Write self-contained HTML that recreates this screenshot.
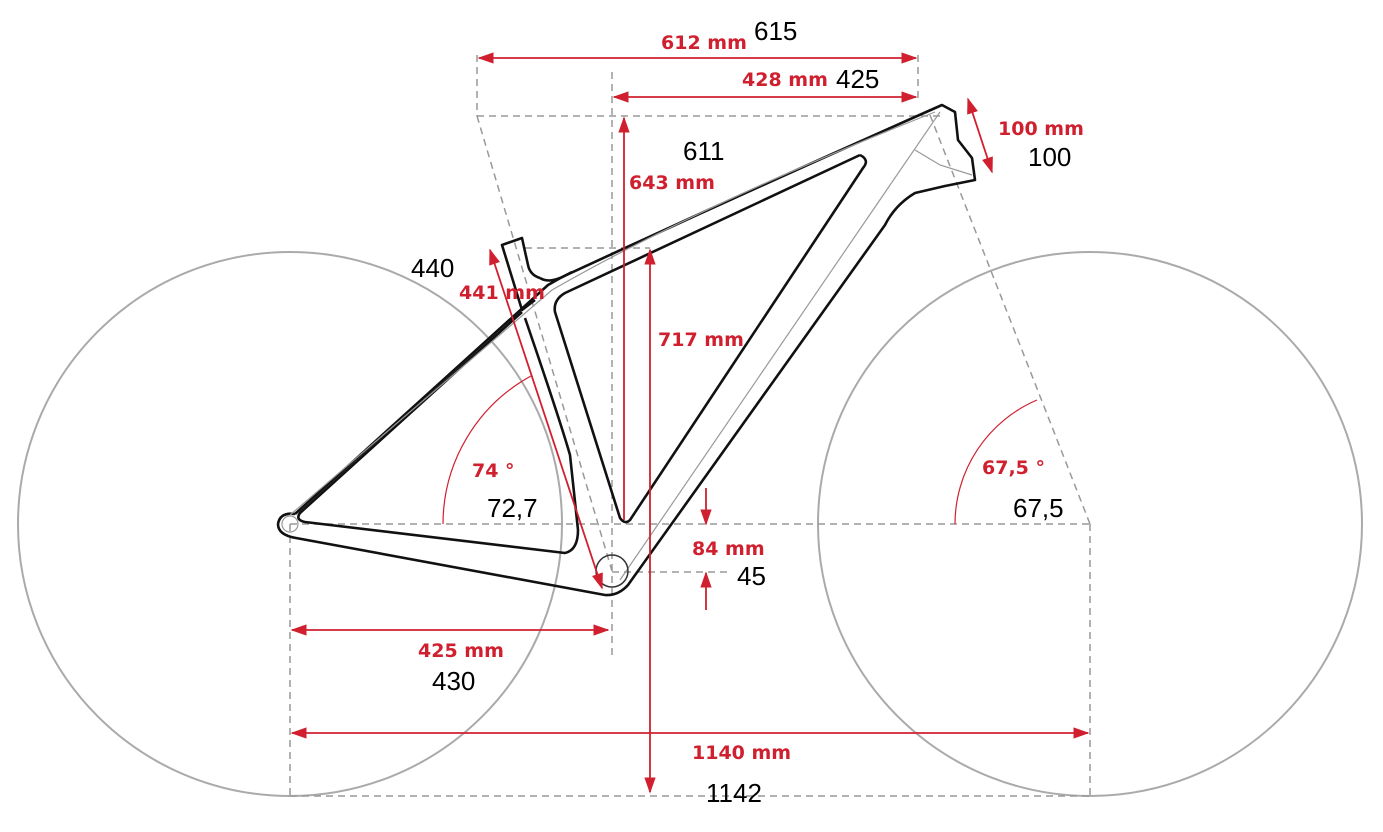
<!DOCTYPE html>
<html><head><meta charset="utf-8"><style>
html,body{margin:0;padding:0;background:#fff;}
svg{display:block;}
.r{fill:#d0202f;font-family:"DejaVu Sans","Liberation Sans",sans-serif;font-weight:bold;font-size:19px;}
.k{fill:#000;font-family:"Liberation Sans",sans-serif;font-size:26px;}
</style></head><body>
<svg width="1383" height="832" viewBox="0 0 1383 832" xmlns="http://www.w3.org/2000/svg">
<defs>
<marker id="a" viewBox="0 0 10 10" refX="9" refY="5" markerWidth="9" markerHeight="9" orient="auto-start-reverse"><path d="M0,1.5 L10,5 L0,8.5 z" fill="#d0202f"/></marker>
</defs>
<circle cx="290" cy="524" r="272" fill="none" stroke="#aaa" stroke-width="2"/>
<circle cx="1090" cy="524" r="272" fill="none" stroke="#aaa" stroke-width="2"/>
<g stroke="#999" stroke-width="1.5" stroke-dasharray="7,5" fill="none">
<line x1="477" y1="55" x2="477" y2="116"/>
<line x1="918" y1="55" x2="918" y2="100"/>
<line x1="612" y1="72" x2="612" y2="655"/>
<line x1="477" y1="116" x2="940" y2="116"/>
<line x1="477" y1="116" x2="612" y2="571"/>
<line x1="930" y1="115" x2="1090" y2="524"/>
<line x1="525" y1="248" x2="650" y2="248"/>
<line x1="290" y1="524" x2="1090" y2="524"/>
<line x1="612" y1="572" x2="730" y2="572"/>
<line x1="290" y1="524" x2="290" y2="796"/>
<line x1="1090" y1="524" x2="1090" y2="796"/>
<line x1="290" y1="796" x2="1090" y2="796"/>
</g>
<g fill="none" stroke="#111" stroke-width="2.6" stroke-linejoin="round">
<path d="M540,278 Q548,283 560,278 Q750,190 942,105 L955,112 L958,140 L972,158 L975,180 L945,186 L915,193 Q895,205 885,225 L628,585 Q618,596 605,595 L296,538 Q278,535 278,524 Q280,512 295,514"/>
<path d="M295,514 L548,285 Q560,278 572,272"/>
<path d="M540,278 Q530,275 528,265 L522,238 L502,245 L522,310 L535,300"/>
<path d="M860,155 Q870,160 863,168 L630,520 Q625,525 620,518 L555,312 Q553,300 565,293 L860,155"/>
<path d="M522,312 L300,513 Q295,520 305,522 L565,553 Q578,550 578,530 L570,455 Q560,420 525,318"/>
</g>
<g fill="none" stroke="#999" stroke-width="1.2">
<path d="M290,515 L552,290 Q700,205 935,112"/>
<path d="M940,112 L620,580"/>
<path d="M915,150 L940,165 L972,175"/>
<circle cx="290" cy="524" r="8"/>
<circle cx="612" cy="571" r="16" stroke="#333" stroke-width="1.5"/>
</g>
<path d="M443,524 A169,169 0 0 1 531,376" fill="none" stroke="#d0202f" stroke-width="1.2"/>
<path d="M955,524 A135,135 0 0 1 1037,400" fill="none" stroke="#d0202f" stroke-width="1.2"/>
<g stroke="#d0202f" stroke-width="1.8" fill="none">
<line x1="479" y1="58" x2="916" y2="58" marker-start="url(#a)" marker-end="url(#a)"/>
<line x1="614" y1="97" x2="916" y2="97" marker-start="url(#a)" marker-end="url(#a)"/>
<line x1="624" y1="520" x2="624" y2="118" marker-end="url(#a)"/>
<line x1="650" y1="250" x2="650" y2="792" marker-start="url(#a)" marker-end="url(#a)"/>
<line x1="490" y1="250" x2="602" y2="588" marker-start="url(#a)" marker-end="url(#a)"/>
<line x1="706" y1="488" x2="706" y2="524" marker-end="url(#a)"/>
<line x1="706" y1="610" x2="706" y2="573" marker-end="url(#a)"/>
<line x1="292" y1="630" x2="608" y2="630" marker-start="url(#a)" marker-end="url(#a)"/>
<line x1="292" y1="733" x2="1088" y2="733" marker-start="url(#a)" marker-end="url(#a)"/>
<line x1="968" y1="99" x2="992" y2="172" marker-start="url(#a)" marker-end="url(#a)"/>
</g>
<text class="r" x="661" y="49">612 mm</text><text class="k" x="754" y="40">615</text>
<text class="r" x="742" y="86">428 mm</text><text class="k" x="836" y="88">425</text>
<text class="r" x="998" y="135">100 mm</text><text class="k" x="1028" y="166">100</text>
<text class="k" x="683" y="160">611</text>
<text class="r" x="629" y="189">643 mm</text>
<text class="k" x="411" y="277">440</text>
<text class="r" x="459" y="299">441 mm</text>
<text class="r" x="658" y="346">717 mm</text>
<text class="r" x="472" y="477">74 °</text>
<text class="k" x="487" y="517">72,7</text>
<text class="r" x="982" y="474">67,5 °</text>
<text class="k" x="1013" y="517">67,5</text>
<text class="r" x="692" y="555">84 mm</text>
<text class="k" x="737" y="585">45</text>
<text class="r" x="418" y="657">425 mm</text>
<text class="k" x="432" y="690">430</text>
<text class="r" x="692" y="759">1140 mm</text>
<text class="k" x="706" y="802">1142</text>
</svg>
</body></html>
